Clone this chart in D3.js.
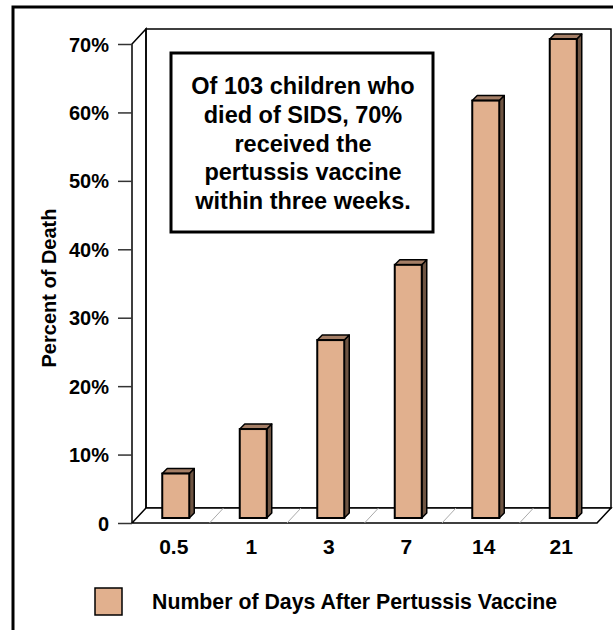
<!DOCTYPE html>
<html>
<head>
<meta charset="utf-8">
<script src="https://cdn.jsdelivr.net/npm/d3@7"></script>
<style>
body{margin:0;background:#fff;}
text{font-family:"Liberation Sans",Arial,sans-serif;font-weight:bold;fill:#000;}
</style>
</head>
<body>
<div id="DrawingBoard"></div>
<script>
var width=613,height=630;

// data
var days=['0.5','1','3','7','14','21'];
var percent=[6.5,13,26,37,61,70];
var yTicks=[0,10,20,30,40,50,60,70];
var noteLines=['Of 103 children who','died of SIDS, 70%','received the','pertussis vaccine','within three weeks.'];
var legendLabel='Number of Days After Pertussis Vaccine';

var svg=d3.select('#DrawingBoard')
    .append('svg')
    .attr('width',width)
    .attr('height',height);

// outer frame
svg.append('rect')
    .attr('x',13).attr('y',7)
    .attr('width',640).attr('height',640)
    .attr('fill','none').attr('stroke','#000').attr('stroke-width',3);

var pLeft=132,pRight=597,pTop=44,pBottom=523;
var depth={x:14,y:-15};

var x=d3.scaleBand().domain(days).range([pLeft,pRight]);
var y=d3.scaleLinear().domain([0,70]).range([pBottom,pTop]);

var g=svg.append('g');

// back wall
g.append('rect')
    .attr('x',pLeft+depth.x).attr('y',pTop+depth.y)
    .attr('width',pRight-pLeft).attr('height',pBottom-pTop)
    .attr('fill','#fff').attr('stroke','#000').attr('stroke-width',1.5);

// floor
g.append('path')
    .attr('d','M'+pLeft+','+pBottom+'L'+pRight+','+pBottom+'L'+(pRight+depth.x)+','+(pBottom+depth.y)+'L'+(pLeft+depth.x)+','+(pBottom+depth.y)+'Z')
    .attr('fill','#fff').attr('stroke','#000').attr('stroke-width',1.5);

// floor separators
g.selectAll('.sep')
    .data(days.slice(1))
    .enter().append('line')
    .attr('x1',function(d){return x(d);})
    .attr('y1',pBottom)
    .attr('x2',function(d){return x(d)+depth.x;})
    .attr('y2',pBottom+depth.y)
    .attr('stroke','#aaa').attr('stroke-width',1);

// left side wall
g.append('path')
    .attr('d','M'+pLeft+','+pBottom+'L'+pLeft+','+pTop+'L'+(pLeft+depth.x)+','+(pTop+depth.y)+'L'+(pLeft+depth.x)+','+(pBottom+depth.y))
    .attr('fill','none').attr('stroke','#000').attr('stroke-width',1.5);

// y axis
var yAxis=d3.axisLeft(y)
    .tickValues(yTicks)
    .tickSize(14)
    .tickSizeOuter(0)
    .tickPadding(9)
    .tickFormat(function(d){return d===0?'0':d+'%';});
var ya=g.append('g').attr('transform','translate('+pLeft+',0)').call(yAxis);
ya.select('.domain').remove();
ya.selectAll('.tick line').attr('stroke','#333').attr('stroke-width',1.5);
ya.selectAll('.tick text').style('font-size','20px').attr('dy','0.35em');

// x labels
g.selectAll('.xlab')
    .data(days)
    .enter().append('text')
    .attr('x',function(d){return x(d)+x.bandwidth()/2+3;})
    .attr('y',554)
    .attr('text-anchor','middle')
    .style('font-size','21px')
    .text(function(d){return d;});

// bars
var bw=27,off={x:4,y:-5},bd={x:5,y:-5};
var bars=g.selectAll('.bar')
    .data(days)
    .enter().append('g');
bars.each(function(d,i){
    var gx=d3.select(this);
    var x0=x(d)+x.bandwidth()/2-bw/2+off.x+1;
    var yb=y(0)+off.y, yt=y(percent[i])+off.y;
    // side
    gx.append('path')
        .attr('d','M'+(x0+bw)+','+yb+'L'+(x0+bw)+','+yt+'L'+(x0+bw+bd.x)+','+(yt+bd.y)+'L'+(x0+bw+bd.x)+','+(yb+bd.y)+'Z')
        .attr('fill','#6e5442').attr('stroke','#000').attr('stroke-width',1.5).attr('stroke-linejoin','round');
    // top
    gx.append('path')
        .attr('d','M'+x0+','+yt+'L'+(x0+bw)+','+yt+'L'+(x0+bw+bd.x)+','+(yt+bd.y)+'L'+(x0+bd.x)+','+(yt+bd.y)+'Z')
        .attr('fill','#a47e66').attr('stroke','#000').attr('stroke-width',1.5).attr('stroke-linejoin','round');
    // front
    gx.append('rect')
        .attr('x',x0).attr('y',yt)
        .attr('width',bw).attr('height',yb-yt)
        .attr('fill','#e1b08e').attr('stroke','#000').attr('stroke-width',2);
});

// y title
svg.append('text')
    .attr('transform','translate(56,288) rotate(-90)')
    .attr('text-anchor','middle')
    .style('font-size','20px')
    .text('Percent of Death');

// annotation box
svg.append('rect')
    .attr('x',171).attr('y',53)
    .attr('width',262).attr('height',179)
    .attr('fill','#fff').attr('stroke','#000').attr('stroke-width',3);
svg.append('g').selectAll('text')
    .data(noteLines)
    .enter().append('text')
    .attr('x',303)
    .attr('y',function(d,i){return 94+i*28.8;})
    .attr('text-anchor','middle')
    .style('font-size','23.5px')
    .text(function(d){return d;});

// legend
svg.append('rect')
    .attr('x',95).attr('y',588)
    .attr('width',27).attr('height',27)
    .attr('fill','#e1b08e').attr('stroke','#000').attr('stroke-width',1.5);
svg.append('text')
    .attr('x',152).attr('y',609)
    .style('font-size','21.3px')
    .text(legendLabel);
</script>
</body>
</html>
